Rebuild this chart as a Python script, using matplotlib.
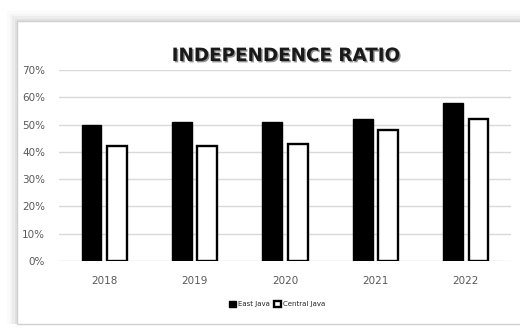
import numpy as np
import matplotlib
matplotlib.use("Agg")
import matplotlib.pyplot as plt
import matplotlib.patheffects as pe
from matplotlib.patches import Rectangle

years = ["2018", "2019", "2020", "2021", "2022"]
east_java = [0.50, 0.51, 0.51, 0.52, 0.58]
central_java = [0.42, 0.42, 0.43, 0.48, 0.52]
yticks = [0.0, 0.1, 0.2, 0.3, 0.4, 0.5, 0.6, 0.7]

fig = plt.figure(figsize=(5.2, 3.35), dpi=100)
fig.patch.set_facecolor("white")

# card frame with a soft shadow along the top and left
left, bottom, top = 17 / 520, 11 / 335, 1 - 21 / 335
for i, a in enumerate([0.015, 0.025, 0.035, 0.045]):
    off = (4 - i) * 2.5
    fig.patches.append(Rectangle((left - off / 520, bottom), 1.2, top - bottom + off / 335,
                                 transform=fig.transFigure, facecolor="black",
                                 alpha=a, edgecolor="none", zorder=-3))
fig.patches.append(Rectangle((left, bottom), 1.2, top - bottom,
                             transform=fig.transFigure, facecolor="white",
                             edgecolor="#d0d0d0", linewidth=1.0, zorder=-2))

ax = fig.add_axes([59 / 520, 1 - 261 / 335, 452 / 520, 191 / 335])
ax.set_facecolor("none")
x = np.arange(len(years))
w = 0.22
ax.bar(x - 0.14, east_java, width=w, color="black", edgecolor="black", linewidth=1, zorder=3,
       label="East Java")
ax.bar(x + 0.14, central_java, width=w, color="white", edgecolor="black", linewidth=1.7, zorder=3,
       label="Central Java")

ax.set_xlim(-0.5, 4.5)
ax.set_ylim(0, 0.7)
ax.set_yticks(yticks)
ax.set_yticklabels([f"{int(round(v * 100))}%" for v in yticks])
ax.set_xticks(x)
ax.set_xticklabels(years)
ax.yaxis.grid(True, color="#d9d9d9", linewidth=1.0, zorder=0)
ax.tick_params(axis="both", length=0, labelsize=7.5, labelcolor="#595959")
ax.tick_params(axis="y", pad=10)
ax.tick_params(axis="x", pad=11)
for s in ax.spines.values():
    s.set_visible(False)

fig.text(0.55, 1 - 56 / 335, "INDEPENDENCE RATIO", ha="center", va="center",
         fontsize=13.2, fontweight="bold", color="#1a1a1a", family="DejaVu Sans",
         path_effects=[pe.withSimplePatchShadow(offset=(1.0, -1.0), shadow_rgbFace="#333333", alpha=0.55)])

leg = fig.legend(loc="center", bbox_to_anchor=(277 / 520, 1 - 304 / 335), ncol=2, frameon=False,
                 fontsize=5, handlelength=1.0, handleheight=1.0, handletextpad=0.3,
                 columnspacing=0.6)
for t in leg.get_texts():
    t.set_color("#262626")

fig.savefig("out.png", dpi=100)
